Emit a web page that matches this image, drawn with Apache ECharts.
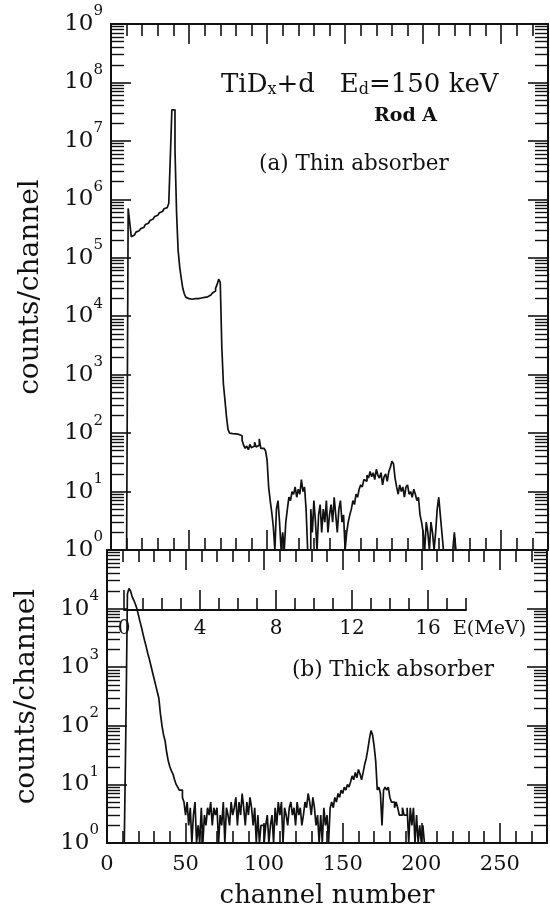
<!DOCTYPE html>
<html>
<head>
<meta charset="utf-8">
<script src="https://cdn.jsdelivr.net/npm/echarts@6/dist/echarts.min.js"></script>
<style>
  html, body { margin: 0; padding: 0; background: #fff; }
  #chart { width: 550px; height: 910px; }
</style>
</head>
<body>
<div id="chart"></div>
<script>
// ---- data ----
// (a) thin absorber: counts per channel, first entry is channel chStartA
const chStartA = 10;
const countsA = [
  1, 7e5, 4e5, 2.3e5, 2.45e5, 2.6e5, 2.75e5, 2.9e5, 3.0e5, 3.15e5,
  3.3e5, 3.5e5, 3.7e5, 3.9e5, 4.1e5, 4.35e5, 4.6e5, 4.85e5, 5.1e5, 5.35e5,
  5.6e5, 5.9e5, 6.2e5, 6.5e5, 6.9e5, 7.2e5, 7.6e5, 8.5e5, 5.2e6, 3.4e7,
  3.4e7, 7e6, 6e5, 1.35e5, 7e4, 4.5e4, 3e4, 2.4e4, 2.1e4, 2.0e4,
  2.0e4, 1.95e4, 1.95e4, 2.0e4, 1.95e4, 2.0e4, 2.0e4, 2.05e4, 2.05e4, 2.1e4,
  2.1e4, 2.15e4, 2.2e4, 2.3e4, 2.4e4, 2.5e4, 2.7e4, 3.0e4, 3.5e4, 4.3e4,
  3.8e4, 3e3, 700, 370, 190, 115, 100, 98, 96, 97,
  99, 95, 92, 90, 75, 62, 55, 60, 52, 64,
  56, 60, 70, 58, 62, 80, 55, 55, 52, 50,
  35, 12, 7, 4.4, 2.5, 1, 5, 7, 3, 1,
  2, 1, 3, 5, 8, 7, 10, 9, 12, 8,
  11, 9, 16, 10, 12, 5, 1, 1, 5, 2,
  7, 3, 1, 4, 6, 2, 5, 3, 7, 2,
  4, 6, 3, 8, 4, 2, 5, 7, 3, 4,
  1, 2, 3, 4, 5, 7, 6, 9, 8, 11,
  13, 12, 16, 15, 19, 17, 22, 18, 21, 16,
  24, 19, 17, 21, 13, 18, 20, 15, 22, 26,
  33, 30, 17, 12, 9, 13, 10, 12, 8, 12,
  13, 9, 10, 8, 11, 9, 7, 8, 4, 3,
  2, 1, 3, 2, 1, 3, 2, 1, 2, 5,
  8, 4, 2, 1, 1, 1, 1, 1, 1, 1,
  2, 1
];
// (b) thick absorber: counts per channel, first entry is channel chStartB
const chStartB = 11;
const countsB = [
  1, 90, 1.8e4, 2.2e4, 2.0e4, 1.6e4, 1.4e4, 1.2e4, 1.0e4,
  7.8e3, 6.0e3, 4.7e3, 3.6e3, 2.8e3, 2.2e3, 1.7e3, 1.35e3, 1.05e3, 810,
  630, 490, 380, 295, 160, 100, 70, 55, 35, 25,
  20, 17, 15, 12, 10, 9, 8, 8, 6, 5,
  3, 5, 2, 4, 1, 3, 5, 1, 2, 1,
  4, 1, 3, 2, 4, 3, 5, 2, 4, 3,
  4, 1, 3, 2, 5, 1, 4, 3, 2, 5,
  3, 4, 6, 2, 5, 3, 7, 4, 2, 5,
  3, 6, 4, 2, 4, 1, 3, 1, 2, 2,
  1, 2, 3, 1, 2, 3, 1, 4, 2, 5,
  3, 5, 1, 4, 3, 2, 4, 5, 3, 4,
  2, 5, 3, 4, 2, 3, 5, 4, 7, 5,
  3, 6, 4, 2, 3, 1, 3, 1, 4, 2,
  3, 1, 4, 5, 4, 6, 5, 7, 6, 8,
  7, 9, 8, 10, 9, 11, 14, 12, 16, 13,
  18, 15, 12, 16, 22, 28, 40, 60, 83, 70,
  45, 25, 8, 9, 7, 2, 8, 9, 8, 9,
  6, 5, 5, 4, 5, 4, 3, 3, 4, 3,
  3, 4, 1, 4, 2, 4, 1, 3, 1, 2,
  1, 2, 1
];
const channelTicks = [0, 50, 100, 150, 200, 250];
const energyTicks = [0, 4, 8, 12, 16];
const decadesA = [1, 1e1, 1e2, 1e3, 1e4, 1e5, 1e6, 1e7, 1e8, 1e9];
const decadesB = [1, 1e1, 1e2, 1e3, 1e4];

// ---- styling ----
const INK = '#111';
const FONT = 'DejaVu Serif';
const CH_MAX = 280;
const E_MAX = 18;

const channelMinor = [];
for (let c = 10; c < CH_MAX; c += 10) if (c % 50) channelMinor.push(c);
const energyMinor = [];
for (let e = 1; e <= E_MAX; e++) if (e % 4) energyMinor.push(e);

function logMinor(top) {
  const out = [];
  for (let d = 1; d < top; d *= 10)
    for (let m = 2; m <= 9; m++) out.push(m * d);
  return out;
}

function toPairs(start, counts) {
  const pts = counts.map((c, i) => [start + i, c]);
  pts.push([start + counts.length, 1]);
  return pts;
}

const supLabel = {
  fontFamily: FONT, fontSize: 23, color: INK, lineHeight: 40,
  rich: { s: { fontFamily: FONT, fontSize: 15, color: INK, lineHeight: 15, verticalAlign: 'top' } }
};

// major + minor tick axes for one edge of a panel
function xPair(gi, pos, withLabels) {
  const common = { gridIndex: gi, type: 'value', min: 0, max: CH_MAX, position: pos, splitLine: { show: false } };
  return [
    Object.assign({}, common, {
      axisLine: { show: true, onZero: false, lineStyle: { color: INK, width: 2 } },
      axisTick: { show: true, inside: true, length: 20, customValues: channelTicks, lineStyle: { color: INK, width: 1.6 } },
      axisLabel: withLabels
        ? { show: true, customValues: channelTicks, margin: 11, fontFamily: FONT, fontSize: 21, color: INK }
        : { show: false },
      name: withLabels ? 'channel number' : '',
      nameLocation: 'middle', nameGap: 40,
      nameTextStyle: { fontFamily: FONT, fontSize: 26, color: INK }
    }),
    Object.assign({}, common, {
      axisLine: { show: false, onZero: false },
      axisTick: { show: true, inside: true, length: 12, customValues: channelMinor, lineStyle: { color: INK, width: 1.6 } },
      axisLabel: { show: false }
    })
  ];
}

function yPair(gi, pos, ymax, labelVals) {
  const common = { gridIndex: gi, type: 'log', logBase: 10, min: 1, max: ymax, position: pos, splitLine: { show: false } };
  return [
    Object.assign({}, common, {
      axisLine: { show: true, onZero: false, lineStyle: { color: INK, width: 2 } },
      axisTick: { show: true, inside: true, length: 20, customValues: decadesA.filter(v => v <= ymax), lineStyle: { color: INK, width: 1.6 } },
      axisLabel: labelVals
        ? Object.assign({ show: true, customValues: labelVals, margin: 8,
            formatter: v => '10{s|' + Math.round(Math.log10(v)) + '}' }, supLabel)
        : { show: false },
      name: labelVals ? 'counts/channel' : '',
      nameLocation: 'middle', nameRotate: 90, nameGap: 66,
      nameTextStyle: { fontFamily: FONT, fontSize: 28, color: INK }
    }),
    Object.assign({}, common, {
      axisLine: { show: false, onZero: false },
      axisTick: { show: true, inside: true, length: 13, customValues: logMinor(ymax), lineStyle: { color: INK, width: 1.4 } },
      axisLabel: { show: false }
    })
  ];
}

const xAxes = [].concat(
  xPair(0, 'bottom', false), xPair(0, 'top', false),
  xPair(1, 'bottom', true), xPair(1, 'top', false),
  [
    // inset energy scale in panel (b)
    { gridIndex: 2, type: 'value', min: 0, max: E_MAX, position: 'bottom', splitLine: { show: false },
      axisLine: { show: true, onZero: false, lineStyle: { color: INK, width: 1.8 } },
      axisTick: { show: true, inside: true, length: 20, customValues: energyTicks, lineStyle: { color: INK, width: 1.6 } },
      axisLabel: { show: true, customValues: energyTicks, margin: 9, fontFamily: FONT, fontSize: 20, color: INK },
      name: 'E(MeV)', nameLocation: 'end', nameGap: -13,
      nameTextStyle: { fontFamily: FONT, fontSize: 19, color: INK, align: 'left', verticalAlign: 'top', lineHeight: 38 } },
    { gridIndex: 2, type: 'value', min: 0, max: E_MAX, position: 'bottom', splitLine: { show: false },
      axisLine: { show: false, onZero: false },
      axisTick: { show: true, inside: true, length: 12, customValues: energyMinor, lineStyle: { color: INK, width: 1.6 } },
      axisLabel: { show: false } }
  ]
);

const yAxes = [].concat(
  yPair(0, 'left', 1e9, decadesA), yPair(0, 'right', 1e9, null),
  yPair(1, 'left', 1e5, decadesB), yPair(1, 'right', 1e5, null),
  [{ gridIndex: 2, type: 'value', show: false, min: 0, max: 1 }]
);

const histStyle = { color: INK, width: 1.7 };

const chart = echarts.init(document.getElementById('chart'), null, { renderer: 'canvas' });
chart.setOption({
  backgroundColor: '#fff',
  animation: false,
  grid: [
    { left: 111, top: 24, width: 437, height: 526 },
    { left: 107, top: 550, width: 440, height: 293 },
    { left: 124, top: 600, width: 342, height: 10 }
  ],
  xAxis: xAxes,
  yAxis: yAxes,
  series: [
    { name: 'thin', type: 'line', step: 'end', xAxisIndex: 0, yAxisIndex: 0,
      showSymbol: false, symbol: 'none', lineStyle: histStyle, data: toPairs(chStartA, countsA) },
    { name: 'thick', type: 'line', step: 'end', xAxisIndex: 4, yAxisIndex: 4,
      showSymbol: false, symbol: 'none', lineStyle: histStyle, data: toPairs(chStartB, countsB) }
  ],
  graphic: [
    { type: 'text', left: 221, top: 72, style: {
        text: 'TiD{sub|x}+d   E{sub|d}=150 keV', fill: INK,
        font: '26px "DejaVu Serif"',
        rich: { sub: { fontFamily: FONT, fontSize: 16, fill: INK, verticalAlign: 'bottom', lineHeight: 12 } } } },
    { type: 'text', left: 374, top: 107, style: { text: 'Rod A', fill: INK, font: 'bold 19px "DejaVu Serif"' } },
    { type: 'text', left: 259, top: 153, style: { text: '(a) Thin absorber', fill: INK, font: '21.5px "DejaVu Serif"' } },
    { type: 'text', left: 292, top: 659, style: { text: '(b) Thick absorber', fill: INK, font: '21.5px "DejaVu Serif"' } }
  ]
});
</script>
</body>
</html>
